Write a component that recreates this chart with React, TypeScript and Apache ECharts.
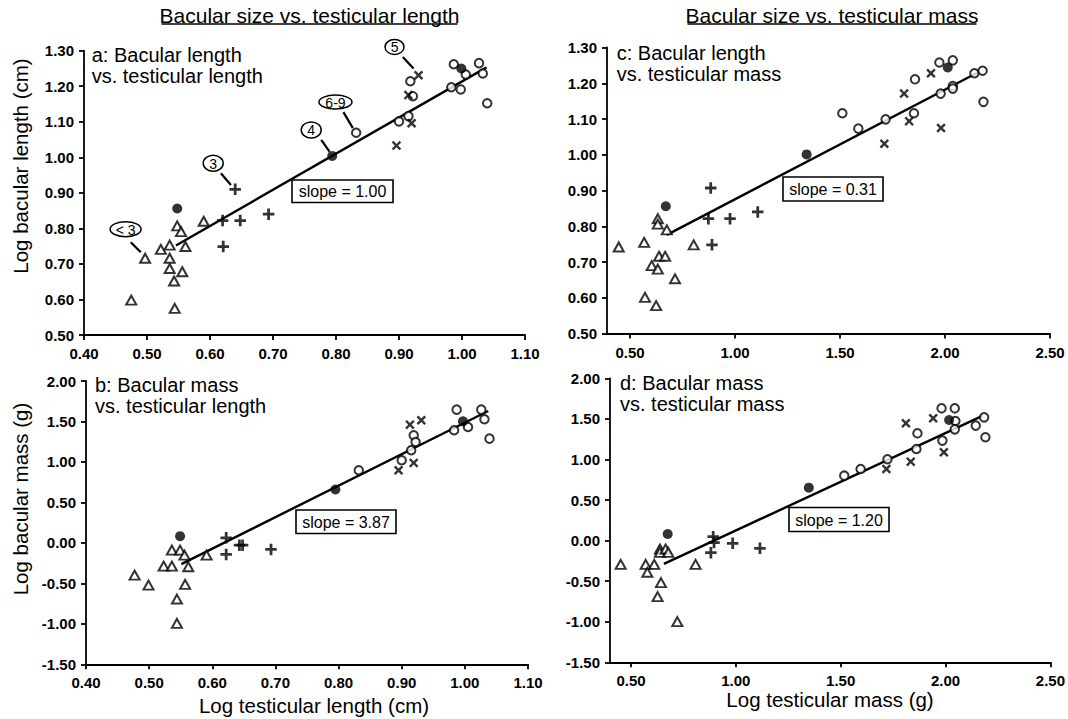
import React, { useEffect, useRef } from 'react';
import * as echarts from 'echarts';

// ---------- Panel a: bacular length vs testicular length ----------
const aTriangles = [[0.497,0.716],[0.475,0.598],[0.522,0.741],[0.536,0.753],[0.536,0.716],[0.536,0.687],[0.543,0.652],[0.544,0.575],[0.548,0.807],[0.554,0.791],[0.561,0.749],[0.556,0.678],[0.590,0.820]];
const aFilled = [[0.548,0.856],[0.794,1.004],[0.999,1.250]];
const aPlus = [[0.640,0.910],[0.620,0.822],[0.648,0.822],[0.621,0.749],[0.693,0.840]];
const aCross = [[0.931,1.231],[0.915,1.175],[0.896,1.033],[0.920,1.096]];
const aOpen = [[0.918,1.214],[0.922,1.172],[0.900,1.101],[0.915,1.116],[0.832,1.069],[0.987,1.262],[0.983,1.197],[0.998,1.191],[1.006,1.233],[1.027,1.265],[1.033,1.236],[1.040,1.152]];
const aFit = [[0.546,0.752],[1.039,1.253]];

// ---------- Panel b: bacular mass vs testicular length ----------
const bTriangles = [[0.477,-0.398],[0.499,-0.522],[0.523,-0.287],[0.536,-0.287],[0.536,-0.090],[0.549,-0.090],[0.556,-0.151],[0.562,-0.295],[0.557,-0.513],[0.544,-0.694],[0.544,-0.995],[0.591,-0.151]];
const bFilled = [[0.549,0.083],[0.795,0.659],[0.997,1.502]];
const bPlus = [[0.622,0.063],[0.622,-0.143],[0.643,-0.028],[0.648,-0.028],[0.693,-0.081]];
const bCross = [[0.913,1.461],[0.931,1.515],[0.895,0.898],[0.919,0.988]];
const bOpen = [[0.832,0.898],[0.900,1.021],[0.915,1.144],[0.919,1.329],[0.922,1.247],[0.983,1.391],[0.987,1.646],[1.005,1.432],[1.026,1.646],[1.031,1.527],[1.039,1.288]];
const bFit = [[0.551,-0.262],[1.037,1.630]];

// ---------- Panel c: bacular length vs testicular mass ----------
const cTriangles = [[0.446,0.742],[0.567,0.755],[0.571,0.601],[0.603,0.690],[0.624,0.578],[0.632,0.680],[0.632,0.821],[0.632,0.806],[0.638,0.716],[0.667,0.716],[0.675,0.790],[0.714,0.653],[0.803,0.748]];
const cFilled = [[0.670,0.856],[1.341,1.001],[2.013,1.244]];
const cPlus = [[0.884,0.907],[0.873,0.821],[0.976,0.821],[1.108,0.840],[0.890,0.748]];
const cCross = [[1.805,1.171],[1.933,1.228],[1.829,1.094],[1.711,1.031],[1.981,1.075]];
const cOpen = [[1.511,1.116],[1.587,1.073],[1.717,1.099],[1.857,1.211],[1.852,1.116],[1.973,1.258],[1.979,1.171],[2.037,1.264],[2.037,1.192],[2.037,1.185],[2.140,1.228],[2.179,1.235],[2.183,1.148]];
const cFit = [[0.675,0.776],[2.163,1.232]];

// ---------- Panel d: bacular mass vs testicular mass ----------
const dTriangles = [[0.451,-0.293],[0.570,-0.293],[0.578,-0.391],[0.611,-0.293],[0.638,-0.104],[0.638,-0.145],[0.665,-0.104],[0.678,-0.145],[0.643,-0.518],[0.627,-0.691],[0.721,-0.999],[0.808,-0.293]];
const dFilled = [[0.675,0.081],[1.348,0.652],[2.017,1.486]];
const dPlus = [[0.892,0.048],[0.896,-0.025],[0.881,-0.149],[0.985,-0.034],[1.115,-0.095]];
const dCross = [[1.811,1.445],[1.941,1.507],[1.718,0.882],[1.834,0.973],[1.992,1.088]];
const dOpen = [[1.517,0.800],[1.595,0.882],[1.723,1.002],[1.866,1.322],[1.861,1.129],[1.981,1.630],[1.985,1.232],[2.044,1.630],[2.047,1.474],[2.044,1.371],[2.144,1.417],[2.184,1.519],[2.190,1.273]];
const dFit = [[0.657,-0.288],[2.176,1.536]];

// ---------- Axis ticks ----------
const lengthTicks = [0.4, 0.5, 0.6, 0.7, 0.8, 0.9, 1.0, 1.1];
const massTicks = [0.5, 1.0, 1.5, 2.0, 2.5];

// ---------- Texts ----------
const headers = ['Bacular size vs. testicular length', 'Bacular size vs. testicular mass'];
const panelTitles = [
  ['a: Bacular length', 'vs. testicular length'],
  ['b: Bacular mass', 'vs. testicular length'],
  ['c: Bacular length', 'vs. testicular mass'],
  ['d: Bacular mass', 'vs. testicular mass'],
];
const slopeLabels = ['slope = 1.00', 'slope = 3.87', 'slope = 0.31', 'slope = 1.20'];
const yNames = ['Log bacular length (cm)', 'Log bacular mass (g)'];
const xNames = ['Log testicular length (cm)', 'Log testicular mass (g)'];

// annotations in panel a, pointing to data points
const annotationLabels = ['< 3', '3', '4', '6-9', '5'];
const annotationTargets = [aTriangles[0], aPlus[0], aFilled[1], aOpen[4], aCross[0]];

// ---------- Layout / styles ----------
const FONT = '"Liberation Sans", Arial, Helvetica, sans-serif';
const PLUS = 'path://M3.8,0H6.2V3.8H10V6.2H6.2V10H3.8V6.2H0V3.8H3.8Z';
const CROSS = 'path://M0,1.8L1.8,0L5,3.2L8.2,0L10,1.8L6.8,5L10,8.2L8.2,10L5,6.8L1.8,10L0,8.2L3.2,5Z';

const grids = [
  { left: 84, top: 50.7, width: 441, height: 284.3 },
  { left: 86, top: 381, width: 442, height: 283.3 },
  { left: 607, top: 47.5, width: 443, height: 286 },
  { left: 610, top: 378.3, width: 440.7, height: 284 },
];
const xRanges = [
  { min: 0.4, max: 1.1, ticks: lengthTicks },
  { min: 0.4, max: 1.1, ticks: lengthTicks },
  { min: 0.39, max: 2.5, ticks: massTicks },
  { min: 0.4, max: 2.5, ticks: massTicks },
];
const yRanges = [
  { min: 0.5, max: 1.3, interval: 0.1 },
  { min: -1.5, max: 2.0, interval: 0.5 },
  { min: 0.5, max: 1.3, interval: 0.1 },
  { min: -1.5, max: 2.0, interval: 0.5 },
];
const annStyle = [
  { cx: -19.5, cy: -29, rx: 15.5, ry: 7.5, l: [-14.3, -16, -4.3, -6] },
  { cx: -22, cy: -26, rx: 10, ry: 8, l: [-14.3, -16, -4.3, -4.3] },
  { cx: -21, cy: -26, rx: 10, ry: 8, l: [-11, -16, -2.7, -4.3] },
  { cx: -20.7, cy: -30.7, rx: 16.5, ry: 7, l: [-12.7, -20.7, -3.3, -4.7] },
  { cx: -24, cy: -28.3, rx: 9.5, ry: 7.5, l: [-15.7, -18.3, -5, -6.7] },
];
const slopeBoxes = [
  { x: 292, y: 180, w: 101, h: 22.5 },
  { x: 296, y: 510, w: 100, h: 23.5 },
  { x: 783, y: 177, w: 100, h: 24 },
  { x: 789, y: 507.5, w: 100, h: 24 },
];
const titlePos = [
  { x: 91.7, y: 55, gap: 21 },
  { x: 95, y: 385, gap: 20.5 },
  { x: 616.7, y: 53.3, gap: 20.5 },
  { x: 620, y: 383.3, gap: 20.5 },
];

const panels = [
  { tri: aTriangles, filled: aFilled, plus: aPlus, cross: aCross, open: aOpen, fit: aFit },
  { tri: bTriangles, filled: bFilled, plus: bPlus, cross: bCross, open: bOpen, fit: bFit },
  { tri: cTriangles, filled: cFilled, plus: cPlus, cross: cCross, open: cOpen, fit: cFit },
  { tri: dTriangles, filled: dFilled, plus: dPlus, cross: dCross, open: dOpen, fit: dFit },
];

const axisLine = { show: true, onZero: false, lineStyle: { color: '#000', width: 1.8 } };
const axisTick = { show: true, inside: false, length: 5, lineStyle: { color: '#000', width: 1.8 } };
const labelStyle = { color: '#000', fontSize: 15, fontWeight: 'bold', fontFamily: FONT };

function buildOption() {
  const xAxis = xRanges.map((r, i) => ({
    type: 'value',
    gridIndex: i,
    min: r.min,
    max: r.max,
    axisLine,
    axisTick: { ...axisTick, customValues: r.ticks },
    axisLabel: { ...labelStyle, margin: 11, customValues: r.ticks, formatter: (v: number) => v.toFixed(2) },
    splitLine: { show: false },
  }));
  const yAxis = yRanges.map((r, i) => ({
    type: 'value',
    gridIndex: i,
    min: r.min,
    max: r.max,
    interval: r.interval,
    axisLine,
    axisTick,
    axisLabel: { ...labelStyle, margin: 10, formatter: (v: number) => v.toFixed(2) },
    splitLine: { show: false },
  }));
  const series: any[] = [];
  panels.forEach((p, i) => {
    series.push({
      type: 'line', xAxisIndex: i, yAxisIndex: i, data: p.fit, symbol: 'none',
      lineStyle: { color: '#000', width: 2.4 }, z: 1, silent: true,
    });
    series.push({
      type: 'scatter', xAxisIndex: i, yAxisIndex: i, data: p.tri, symbol: 'emptyTriangle', symbolSize: [10, 9],
      itemStyle: { color: '#000', borderColor: '#000', borderWidth: 1.9 }, z: 3,
    });
    series.push({
      type: 'scatter', xAxisIndex: i, yAxisIndex: i, data: p.open, symbol: 'emptyCircle', symbolSize: 8.5,
      itemStyle: { color: '#000', borderColor: '#000', borderWidth: 1.8 }, z: 3,
    });
    series.push({
      type: 'scatter', xAxisIndex: i, yAxisIndex: i, data: p.filled, symbol: 'circle', symbolSize: 10,
      itemStyle: { color: '#000' }, z: 4,
    });
    series.push({
      type: 'scatter', xAxisIndex: i, yAxisIndex: i, data: p.plus, symbol: PLUS, symbolSize: 11.5,
      itemStyle: { color: '#000' }, z: 4,
    });
    series.push({
      type: 'scatter', xAxisIndex: i, yAxisIndex: i, data: p.cross, symbol: CROSS, symbolSize: 9.5,
      itemStyle: { color: '#000' }, z: 4,
    });
  });
  return {
    animation: false,
    backgroundColor: '#fff',
    grid: grids.map((g) => ({ ...g, containLabel: false })),
    xAxis,
    yAxis,
    series,
  };
}

export default function App() {
  const ref = useRef<HTMLDivElement>(null);
  useEffect(() => {
    const chart = echarts.init(ref.current!, null, { renderer: 'svg' });
    chart.setOption(buildOption());

    const graphic: any[] = [];
    // headers with underline
    const headerCenters = [309.5, 832];
    const headerHalf = [148, 144.5];
    headers.forEach((h, i) => {
      graphic.push({
        type: 'text', x: headerCenters[i], y: 15, z: 10,
        style: { text: h, font: `21px ${FONT}`, fill: '#000', textAlign: 'center', textVerticalAlign: 'middle' },
      });
      graphic.push({
        type: 'line', z: 10,
        shape: { x1: headerCenters[i] - headerHalf[i], y1: 24, x2: headerCenters[i] + headerHalf[i], y2: 24 },
        style: { stroke: '#000', lineWidth: 1.3 },
      });
    });
    // panel titles (two lines each)
    panelTitles.forEach((lines, i) => {
      lines.forEach((t, k) => {
        graphic.push({
          type: 'text', x: titlePos[i].x, y: titlePos[i].y + k * titlePos[i].gap, z: 10,
          style: { text: t, font: `20px ${FONT}`, fill: '#000', textAlign: 'left', textVerticalAlign: 'middle' },
        });
      });
    });
    // slope boxes
    slopeLabels.forEach((s, i) => {
      const b = slopeBoxes[i];
      graphic.push({
        type: 'rect', z: 10, shape: { x: b.x, y: b.y, width: b.w, height: b.h },
        style: { fill: '#fff', stroke: '#000', lineWidth: 1.6 },
      });
      graphic.push({
        type: 'text', z: 11, x: b.x + b.w / 2, y: b.y + b.h / 2 + 0.5,
        style: { text: s, font: `16px ${FONT}`, fill: '#000', textAlign: 'center', textVerticalAlign: 'middle' },
      });
    });
    // axis names
    const yNameCenters = [166, 499];
    yNames.forEach((n, i) => {
      graphic.push({
        type: 'text', x: 20, y: yNameCenters[i], rotation: Math.PI / 2, z: 10,
        style: { text: n, font: `20.5px ${FONT}`, fill: '#000', textAlign: 'center', textVerticalAlign: 'middle' },
      });
    });
    const xNamePos = [[314, 705], [830, 699.5]];
    xNames.forEach((n, i) => {
      graphic.push({
        type: 'text', x: xNamePos[i][0], y: xNamePos[i][1], z: 10,
        style: { text: n, font: `20.5px ${FONT}`, fill: '#000', textAlign: 'center', textVerticalAlign: 'middle' },
      });
    });
    // annotations in panel a
    annotationLabels.forEach((lab, i) => {
      const p = chart.convertToPixel({ gridIndex: 0 }, annotationTargets[i]) as number[];
      const s = annStyle[i];
      graphic.push({
        type: 'line', z: 10,
        shape: { x1: p[0] + s.l[0], y1: p[1] + s.l[1], x2: p[0] + s.l[2], y2: p[1] + s.l[3] },
        style: { stroke: '#000', lineWidth: 2.2 },
      });
      graphic.push({
        type: 'ellipse', z: 10,
        shape: { cx: p[0] + s.cx, cy: p[1] + s.cy, rx: s.rx, ry: s.ry },
        style: { fill: '#fff', stroke: '#000', lineWidth: 1.5 },
      });
      graphic.push({
        type: 'text', z: 11, x: p[0] + s.cx, y: p[1] + s.cy + 0.5,
        style: { text: lab, font: `14px ${FONT}`, fill: '#000', textAlign: 'center', textVerticalAlign: 'middle' },
      });
    });
    chart.setOption({ graphic });
    return () => chart.dispose();
  }, []);
  return <div ref={ref} style={{ position: 'fixed', left: 0, top: 0, width: 1068, height: 719 }} />;
}
